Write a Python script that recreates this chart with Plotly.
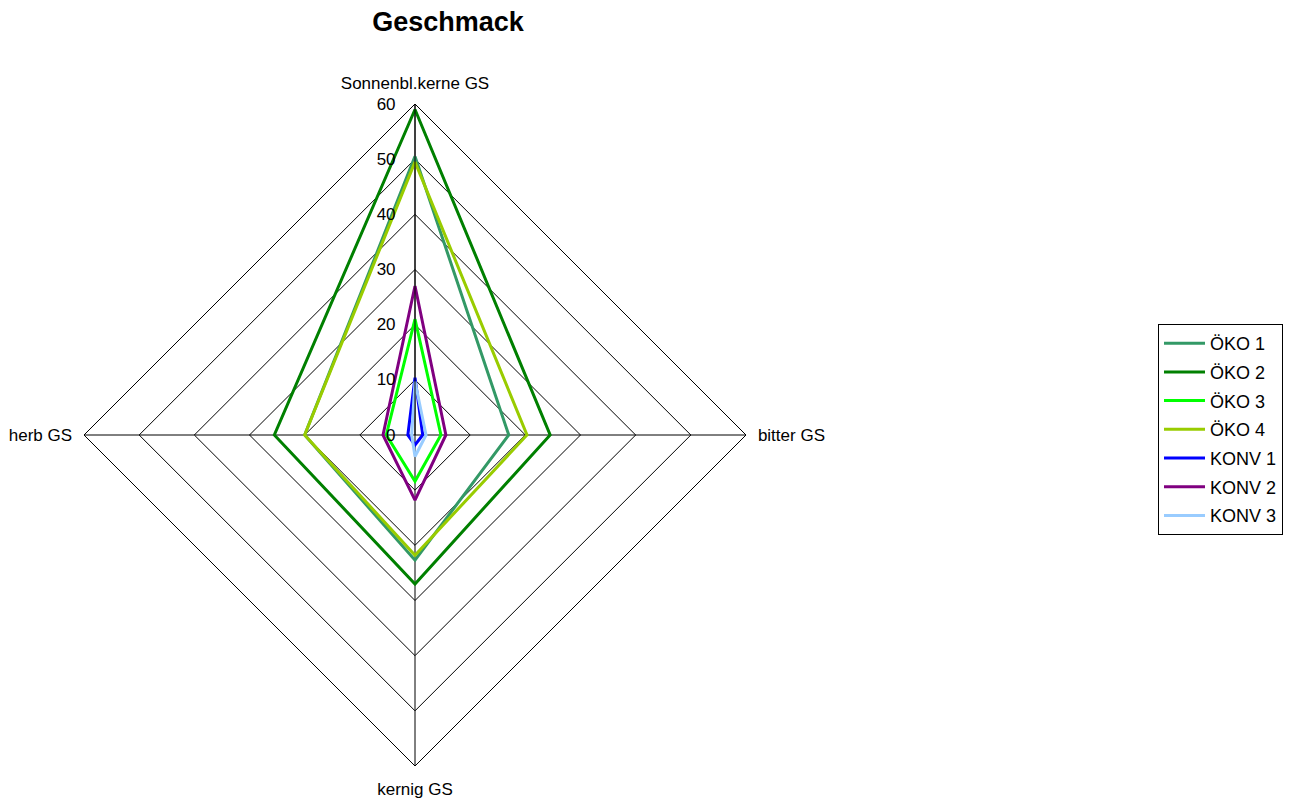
import plotly.graph_objects as go

# axis categories, clockwise from the top
categories = ["Sonnenbl.kerne GS", "bitter GS", "kernig GS", "herb GS"]

series_names = ["ÖKO 1", "ÖKO 2", "ÖKO 3", "ÖKO 4", "KONV 1", "KONV 2", "KONV 3"]

oeko_1  = [50.5, 17.0, 22.7, 20.0]
oeko_2  = [59.0, 24.5, 27.0, 25.5]
oeko_3  = [21.0, 4.7, 8.4, 5.2]
oeko_4  = [49.5, 20.3, 21.8, 20.0]
konv_1  = [10.4, 1.4, 1.8, 1.3]
konv_2  = [27.0, 5.6, 11.8, 5.8]
konv_3  = [9.7, 2.0, 3.9, 0.6]

colors  = ["#339966", "#008000", "#00FF00", "#99CC00", "#0000FF", "#800080", "#99CCFF"]

all_values = [oeko_1, oeko_2, oeko_3, oeko_4, konv_1, konv_2, konv_3]


fig = go.Figure()

for name, values, color in zip(series_names, all_values, colors):
    fig.add_trace(
        go.Scatterpolar(
            r           = values + values[:1],
            theta       = categories + categories[:1],
            mode        = "lines",
            line        = {"color": color, "width": 3},
            name        = name,
            legendgroup = name
        )
    )

# page body has an 8px margin, so layout coords are page coords minus 8
m_l, m_r, m_t, m_b = 76, 5, 96, 42
dom     = 662
plot_w  = 1293 - m_l - m_r
plot_h  = 800 - m_t - m_b

fig.update_layout(
    width           = 1293,
    height          = 800,
    paper_bgcolor   = "white",
    plot_bgcolor    = "white",
    font            = {"family": "Arial, Liberation Sans, sans-serif", "color": "black", "size": 17},
    margin          = {"l": m_l, "r": m_r, "t": m_t, "b": m_b, "autoexpand": False},
    title           = {
        "text": "<b>Geschmack</b>",
        "x": 440 / 1293,
        "xanchor": "center",
        "y": 1 - 14 / 800,
        "yanchor": "middle",
        "font": {"size": 27}
    },
    polar           = {
        "domain": {"x": [0, dom / plot_w], "y": [0, dom / plot_h]},
        "bgcolor": "white",
        "gridshape": "linear",
        "angularaxis": {
            "rotation": 90,
            "direction": "clockwise",
            "showline": True,
            "linecolor": "black",
            "linewidth": 1,
            "gridcolor": "black",
            "gridwidth": 1,
            "ticks": "outside",
            "ticklen": 8,
            "tickcolor": "rgba(0,0,0,0)",
            "tickfont": {"size": 17}
        },
        "radialaxis": {
            "range": [0, 60],
            "dtick": 10,
            "angle": 90,
            "side": "counterclockwise",
            "tickangle": 90,
            "showline": True,
            "linecolor": "black",
            "linewidth": 1,
            "gridcolor": "black",
            "gridwidth": 1,
            "ticks": "outside",
            "ticklen": 13,
            "tickcolor": "rgba(0,0,0,0)",
            "tickfont": {"size": 17}
        }
    },
    legend          = {
        "x": (1150 - m_l) / plot_w,
        "xanchor": "left",
        "y": (800 - m_b - 316) / plot_h,
        "yanchor": "top",
        "bordercolor": "black",
        "borderwidth": 1,
        "bgcolor": "white",
        "font": {"size": 18},
        "itemwidth": 41,
        "tracegroupgap": 2.3
    }
)

fig.write_html("out.html")
